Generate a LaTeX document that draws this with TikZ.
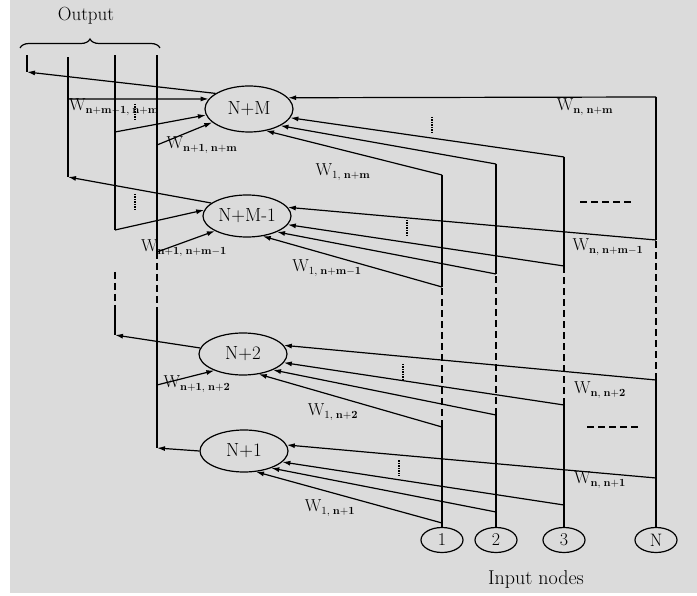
\documentclass[tikz,border=0pt]{standalone}
\usepackage{tikz}
\usetikzlibrary{arrows.meta}
\usetikzlibrary{shapes.geometric}
\usetikzlibrary{decorations.pathreplacing}
\definecolor{paper}{gray}{0.86}

\begin{document}
\begin{tikzpicture}[x=1pt, y=-1pt, line width=1.2pt,
    hid/.style={ellipse, draw, minimum width=88pt, minimum height=42pt, inner sep=0pt, font=\fontsize{19}{22}\selectfont},
    inp/.style={ellipse, draw, minimum width=42pt, minimum height=25pt, inner sep=0pt, font=\fontsize{18}{22}\selectfont},
    arr/.style={-{Latex[length=8pt, width=5pt]}},
    gap/.style={dash pattern=on 7pt off 4pt},
    wlab/.style={font=\fontsize{16}{18}\selectfont, inner sep=1pt}]
        \useasboundingbox (0,0) rectangle (697,596);
        \fill[paper] (10,0) rectangle (697,593);

        \node[hid, minimum height=46pt] (nm) at (249,109) {N+M};
        \node[hid] (nm1) at (247,216) {N+M-1};
        \node[hid] (n2) at (243,354) {N+2};
        \node[hid] (n1) at (244,451) {N+1};

        \foreach \n/\x in {1/442, 2/496, 3/564, N/656}
            \node[inp] (in\n) at (\x,540) {\n};
        \node[font=\fontsize{20}{22}\selectfont] (inlabel) at (536,580) {Input nodes};

        \foreach \n/\x/\a/\b/\c/\d in {1/442/175/287/427/523, 2/496/164/274/415/512, 3/564/157/266/405/505, N/656/97/240/380/478} {
            \coordinate (in\n-a) at (\x,\a);
            \coordinate (in\n-b) at (\x,\b);
            \coordinate (in\n-c) at (\x,\c);
            \coordinate (in\n-d) at (\x,\d);
            \draw (in\n.north) -- (in\n-c);
            \draw[gap] (in\n-c) -- (in\n-b);
            \draw (in\n-b) -- (in\n-a);
        }

        \draw[arr] (inN-a) -- (nm.16);
        \draw[arr] (in3-a) -- (nm.-12);
        \draw[arr] (in2-a) -- (nm.-28);
        \draw[arr] (in1-a) -- (nm.-52);
        \draw[arr] (inN-b) -- (nm1.12);
        \draw[arr] (in3-b) -- (nm1.-12);
        \draw[arr] (in2-b) -- (nm1.-28);
        \draw[arr] (in1-b) -- (nm1.-52);
        \draw[arr] (inN-c) -- (n2.12);
        \draw[arr] (in3-c) -- (n2.-12);
        \draw[arr] (in2-c) -- (n2.-28);
        \draw[arr] (in1-c) -- (n2.-52);
        \draw[arr] (inN-d) -- (n1.8);
        \draw[arr] (in3-d) -- (n1.-16);
        \draw[arr] (in2-d) -- (n1.-32);
        \draw[arr] (in1-d) -- (n1.-60);

        \coordinate (o1-top) at (27,55);
        \coordinate (o1-bot) at (27,72);
        \coordinate (o2-top) at (68,57);
        \coordinate (o2-h) at (68,99);
        \coordinate (o2-bot) at (68,177);
        \coordinate (o3-top) at (115,55);
        \coordinate (o3-a) at (115,132);
        \coordinate (o3-b) at (115,230);
        \coordinate (o3-c) at (115,272);
        \coordinate (o3-d) at (115,308);
        \coordinate (o3-bot) at (115,335);
        \coordinate (o4-top) at (157,55);
        \coordinate (o4-a) at (157,145);
        \coordinate (o4-b) at (157,252);
        \coordinate (o4-c) at (157,313);
        \coordinate (o4-d) at (157,385);
        \coordinate (o4-bot) at (157,448);

        \draw (o1-bot) -- (o1-top);
        \draw[arr] (nm.155) -- (o1-bot);
        \draw (o2-bot) -- (o2-top);
        \draw[arr] (nm1.160) -- (o2-bot);
        \draw[arr] (o2-h) -- (nm.166);
        \draw (o3-b) -- (o3-top);
        \draw[gap] (o3-c) -- (o3-d);
        \draw (o3-d) -- (o3-bot);
        \draw[arr] (n2.172) -- (o3-bot);
        \draw[arr] (o3-a) -- (nm.188);
        \draw[arr] (o3-b) -- (nm1.172);
        \draw (o4-b) -- (o4-top);
        \draw[gap] (o4-b) -- (o4-c);
        \draw (o4-c) -- (o4-bot);
        \draw[arr] (n1.180) -- (o4-bot);
        \draw[arr] (o4-a) -- (nm.200);
        \draw[arr] (o4-b) -- (nm1.205);
        \draw[arr] (o4-d) -- (n2.210);

        \draw[decorate, decoration={brace, amplitude=9pt}] (20,48) -- (160,48);
        \node[font=\fontsize{19}{22}\selectfont] (outlabel) at (86,16) {Output};

        \foreach \x/\y in {135/112, 135/202, 432/125, 407/228, 403/372, 399/468}
            \draw[densely dotted, line width=1.5pt] (\x,\y-8) -- (\x,\y+8);
        \draw[gap] (580,202) -- (633,202);
        \draw[gap] (587,427) -- (640,427);

        \node[wlab] (w-nm-o) at (114,107) {$\mathrm{W}_{\mathbf{n+m-1},\;\mathbf{n+m}}$};
        \node[wlab] (w-nm-h) at (202,145) {$\mathrm{W}_{\mathbf{n+1},\;\mathbf{n+m}}$};
        \node[wlab] (w-nm-i) at (343,172) {$\mathrm{W}_{1,\;\mathbf{n+m}}$};
        \node[wlab] (w-nm-n) at (585,107) {$\mathrm{W}_{\mathbf{n},\;\mathbf{n+m}}$};
        \node[wlab] (w-nm1-h) at (184,248) {$\mathrm{W}_{\mathbf{n+1},\;\mathbf{n+m-1}}$};
        \node[wlab] (w-nm1-i) at (327,268) {$\mathrm{W}_{1,\;\mathbf{n+m-1}}$};
        \node[wlab] (w-nm1-n) at (608,247) {$\mathrm{W}_{\mathbf{n},\;\mathbf{n+m-1}}$};
        \node[wlab] (w-n2-h) at (197,384) {$\mathrm{W}_{\mathbf{n+1},\;\mathbf{n+2}}$};
        \node[wlab] (w-n2-i) at (333,412) {$\mathrm{W}_{1,\;\mathbf{n+2}}$};
        \node[wlab] (w-n2-n) at (600,390) {$\mathrm{W}_{\mathbf{n},\;\mathbf{n+2}}$};
        \node[wlab] (w-n1-i) at (330,508) {$\mathrm{W}_{1,\;\mathbf{n+1}}$};
        \node[wlab] (w-n1-n) at (600,480) {$\mathrm{W}_{\mathbf{n},\;\mathbf{n+1}}$};
\end{tikzpicture}
\end{document}
